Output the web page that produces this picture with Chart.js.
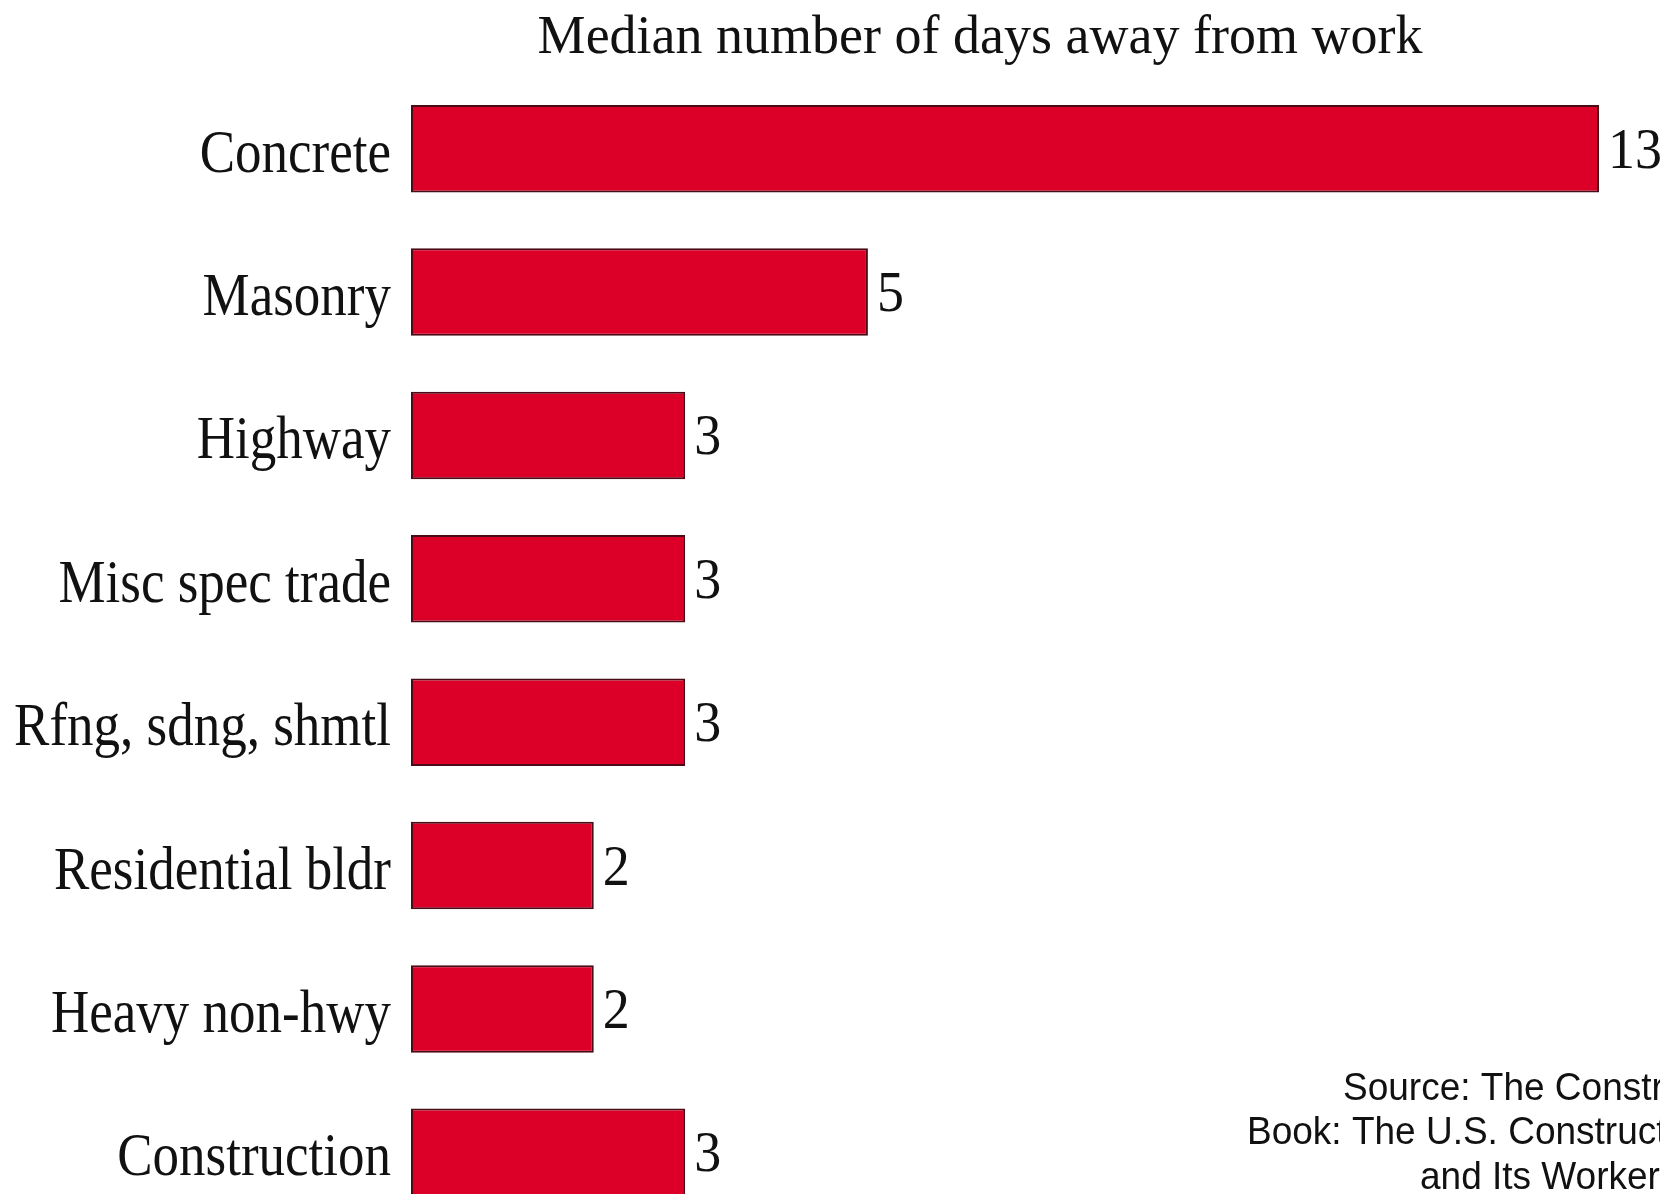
<!DOCTYPE html>
<html>
<head>
<meta charset="utf-8">
<title>Median number of days away from work</title>
<script src="https://cdn.jsdelivr.net/npm/chart.js@4/dist/chart.umd.min.js"></script>
<style>
    html, body {
        margin: 0;
        padding: 0;
        background: #ffffff;
        overflow: hidden;
    }
    #daysChart {
        display: block;
    }
</style>
</head>
<body>
<canvas id="daysChart" width="1660" height="1240"></canvas>

<script>
// Chart data
const categories = [
    'Concrete',
    'Masonry',
    'Highway',
    'Misc spec trade',
    'Rfng, sdng, shmtl',
    'Residential bldr',
    'Heavy non-hwy',
    'Construction'
];
const medianDays = [13, 5, 3, 3, 3, 2, 2, 3];
const axisMin = 0;
const axisMax = 13;

const chartTitle = 'Median number of days away from work';
const sourceLines = [
    'Source: The Construction Chart',
    'Book: The U.S. Construction Industry',
    'and Its Workers'
];

const BAR_RED = '#DC0029';
const BAR_EDGE = '#4a0c16';
const SERIF = '"Liberation Serif", "Times New Roman", serif';
const SANS = '"Liberation Sans", Arial, sans-serif';

/**
 * Draw a string with an optional vertical stretch
 */
function drawText(ctx, text, x, y, font, align, stretchY) {
    ctx.save();
    ctx.translate(x, y);
    ctx.scale(1, stretchY || 1);
    ctx.font = font;
    ctx.textAlign = align;
    ctx.textBaseline = 'alphabetic';
    ctx.fillStyle = '#111111';
    ctx.fillText(text, 0, 0);
    ctx.restore();
}

/**
 * Title, category names, value labels and source note
 */
const textLayer = {
    id: 'textLayer',
    afterDatasetsDraw: function(chart) {
        const ctx = chart.ctx;
        const xScale = chart.scales.x;
        const yScale = chart.scales.y;

        drawText(ctx, chartTitle, 980, 53, '54px ' + SERIF, 'center', 1.02);

        categories.forEach(function(name, i) {
            const yMid = yScale.getPixelForValue(i);
            drawText(ctx, name, yScale.right - 20, yMid + 23, '53px ' + SERIF, 'right', 1.15);

            const xEnd = xScale.getPixelForValue(medianDays[i]);
            drawText(ctx, String(medianDays[i]), xEnd + 9, yMid + 19, '54px ' + SERIF, 'left', 1.06);
        });

        // source note, partly running off the right edge
        drawText(ctx, sourceLines[0], 1343, 1100, '37px ' + SANS, 'left', 1.06);
        drawText(ctx, sourceLines[1], 1247, 1144, '37px ' + SANS, 'left', 1.06);
        drawText(ctx, sourceLines[2], 1420, 1189, '37px ' + SANS, 'left', 1.06);
    }
};

function initializeDaysChart() {
    const canvas = document.getElementById('daysChart');
    if (!canvas) {
        return;
    }

    new Chart(canvas.getContext('2d'), {
        type: 'bar',
        data: {
            labels: categories,
            datasets: [{
                label: 'Median days away from work',
                data: medianDays,
                backgroundColor: BAR_RED,
                borderColor: BAR_EDGE,
                borderWidth: 2,
                borderSkipped: false,
                categoryPercentage: 1.0,
                barPercentage: 0.61
            }]
        },
        options: {
            indexAxis: 'y',
            responsive: false,
            animation: false,
            devicePixelRatio: 1,
            layout: {
                padding: { top: 77, right: 61, bottom: 16, left: 0 }
            },
            plugins: {
                legend: { display: false },
                tooltip: { enabled: false },
                title: { display: false }
            },
            scales: {
                x: {
                    display: false,
                    min: axisMin,
                    max: axisMax
                },
                y: {
                    display: true,
                    grid: { display: false },
                    border: { display: false },
                    ticks: { display: false },
                    afterFit: function(scale) {
                        scale.width = 411;
                    }
                }
            }
        },
        plugins: [textLayer]
    });
}

document.addEventListener('DOMContentLoaded', function() {
    if (typeof Chart !== 'undefined') {
        initializeDaysChart();
    } else {
        console.error('Chart.js library not loaded');
    }
});
</script>
</body>
</html>
